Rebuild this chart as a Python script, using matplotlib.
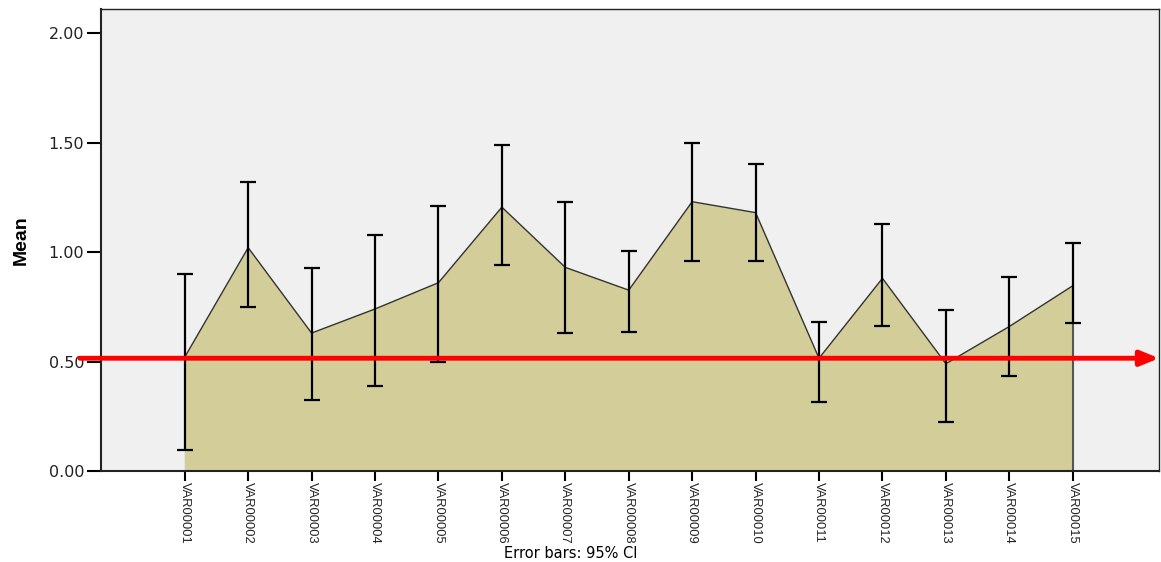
import matplotlib
matplotlib.use("Agg")
import matplotlib.pyplot as plt
import numpy as np

categories = ["VAR00001", "VAR00002", "VAR00003", "VAR00004", "VAR00005",
              "VAR00006", "VAR00007", "VAR00008", "VAR00009", "VAR00010",
              "VAR00011", "VAR00012", "VAR00013", "VAR00014", "VAR00015"]
means = [0.52, 1.02, 0.63, 0.74, 0.86, 1.205, 0.93, 0.826, 1.23, 1.18,
         0.515, 0.88, 0.49, 0.66, 0.846]
ci_upper = [0.90, 1.32, 0.927, 1.08, 1.21, 1.49, 1.23, 1.005, 1.50, 1.40,
            0.68, 1.13, 0.735, 0.886, 1.04]
ci_lower = [0.096, 0.75, 0.324, 0.39, 0.50, 0.94, 0.63, 0.635, 0.96, 0.96,
            0.315, 0.66, 0.224, 0.434, 0.675]
y_ticks = [0.0, 0.5, 1.0, 1.5, 2.0]
reference_level = 0.515

fig = plt.figure(figsize=(11.61, 5.62), dpi=100)
ax = fig.add_axes([101 / 1161, 91 / 562, 1058 / 1161, 462 / 562])
ax.set_facecolor("#f0f0f0")

x = np.arange(len(categories))
m = np.array(means)
ax.fill_between(x, 0, m, facecolor="#d3ce99", edgecolor="none", zorder=1)
ax.plot(x, m, color="#333333", lw=1.0, zorder=2)
ax.plot([x[-1], x[-1]], [0, m[-1]], color="#555555", lw=1.5, zorder=2)

lo = m - np.array(ci_lower)
hi = np.array(ci_upper) - m
ax.errorbar(x, m, yerr=[lo, hi], fmt="none", ecolor="black", elinewidth=1.6,
            capsize=6, capthick=1.6, zorder=3)

# reference line with arrowhead, extending past the left spine
ax.annotate("", xy=(1.0, reference_level), xycoords=("axes fraction", "data"),
            xytext=(-0.02, reference_level), textcoords=("axes fraction", "data"),
            arrowprops=dict(arrowstyle="-|>,head_length=1.1,head_width=0.45",
                            color="#ff0000", lw=3.5, shrinkA=0, shrinkB=0),
            annotation_clip=False, zorder=5)

ax.set_xlim(-1.32, 15.36)
ax.set_ylim(0, 2.11)
ax.set_yticks(y_ticks)
ax.set_yticklabels([f"{v:.2f}" for v in y_ticks], fontsize=11.5,
                   family=["DejaVu Sans"], color="#222222")
ax.set_xticks(x)
ax.set_xticklabels(categories, rotation=-90, fontsize=9.3,
                   family=["Liberation Sans", "DejaVu Sans"],
                   color="#222222", va="top", ha="center")
ax.tick_params(axis="y", length=10, width=1.5, direction="out", pad=2)
ax.tick_params(axis="x", length=7, width=1.5, direction="out", pad=1)

for s in ax.spines.values():
    s.set_color("#222222")
    s.set_linewidth(1.5)
ax.spines["right"].set_linewidth(1.0)
ax.spines["top"].set_linewidth(1.0)

ax.set_ylabel("Mean", fontsize=14, fontweight="bold",
              family=["Liberation Sans", "DejaVu Sans"],
              labelpad=14)
fig.text(571 / 1161, 8 / 562, "Error bars: 95% CI", ha="center", va="center",
         fontsize=10.5, family=["DejaVu Sans"])

fig.savefig("out.png", dpi=100)
